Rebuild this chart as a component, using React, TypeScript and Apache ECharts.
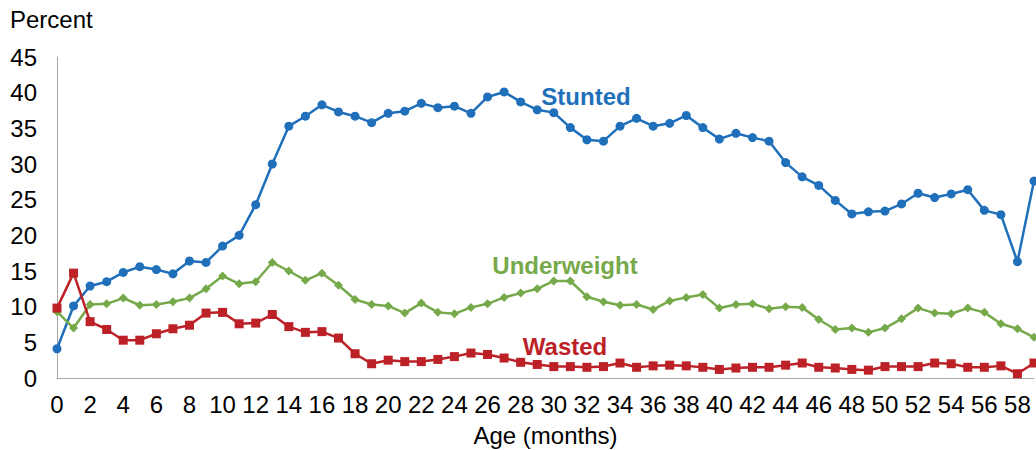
import React, { useEffect, useRef } from "react";
import * as echarts from "echarts";

const months: string[] = Array.from({ length: 60 }, (_, i) => String(i));

const stunted = [
  4.1, 10.1, 12.9, 13.5, 14.8, 15.6, 15.2, 14.6, 16.4, 16.2,
  18.5, 20.0, 24.3, 30.0, 35.3, 36.7, 38.3, 37.3, 36.7, 35.8,
  37.1, 37.4, 38.5, 37.9, 38.1, 37.1, 39.4, 40.1, 38.7, 37.6,
  37.2, 35.1, 33.4, 33.2, 35.3, 36.4, 35.3, 35.7, 36.8, 35.1,
  33.5, 34.3, 33.7, 33.2, 30.2, 28.2, 27.0, 24.9, 23.0, 23.3,
  23.4, 24.4, 25.9, 25.3, 25.8, 26.4, 23.5, 22.9, 16.3, 27.6,
];

const underweight = [
  9.3, 7.0, 10.3, 10.4, 11.2, 10.2, 10.3, 10.7, 11.2, 12.5,
  14.3, 13.2, 13.5, 16.2, 15.0, 13.7, 14.7, 13.0, 11.0, 10.3,
  10.1, 9.1, 10.5, 9.2, 9.0, 9.9, 10.4, 11.3, 11.9, 12.5,
  13.6, 13.6, 11.4, 10.7, 10.2, 10.3, 9.6, 10.8, 11.3, 11.7,
  9.8, 10.3, 10.4, 9.7, 10.0, 9.9, 8.2, 6.8, 7.0, 6.4,
  7.0, 8.3, 9.8, 9.1, 9.0, 9.8, 9.2, 7.6, 6.9, 5.7,
];

const wasted = [
  9.8, 14.7, 7.9, 6.8, 5.3, 5.3, 6.2, 6.9, 7.4, 9.1,
  9.2, 7.6, 7.7, 8.9, 7.2, 6.4, 6.5, 5.6, 3.4, 2.0,
  2.5, 2.3, 2.3, 2.6, 3.0, 3.5, 3.3, 2.8, 2.2, 1.9,
  1.6, 1.6, 1.5, 1.6, 2.1, 1.5, 1.7, 1.8, 1.7, 1.5,
  1.2, 1.4, 1.5, 1.5, 1.8, 2.1, 1.5, 1.4, 1.2, 1.1,
  1.6, 1.6, 1.6, 2.1, 2.0, 1.5, 1.5, 1.7, 0.6, 2.1,
];

const BLUE = "#1f6fba";
const GREEN = "#76a94a";
const RED = "#bc2127";
const FONT = "'Liberation Sans', Arial, sans-serif";
const FS = 24;

export default function App() {
  const ref = useRef<HTMLDivElement>(null);
  useEffect(() => {
    if (!ref.current) return;
    const chart = echarts.init(ref.current, undefined, { renderer: "svg" });
    chart.setOption({
      animation: false,
      textStyle: { fontFamily: FONT },
      grid: { left: 57, right: 2, top: 57, bottom: 72, containLabel: false, outerBoundsMode: "none" },
      xAxis: {
        type: "category",
        data: months,
        boundaryGap: false,
        name: "Age (months)",
        nameLocation: "middle",
        nameGap: 45,
        nameTextStyle: { fontSize: FS, color: "#000", fontFamily: FONT },
        axisLine: { lineStyle: { color: "#a6a6a6", width: 1 } },
        axisTick: { show: false },
        axisLabel: { interval: 1, fontSize: FS, color: "#000", margin: 14, fontFamily: FONT },
        splitLine: { show: false },
      },
      yAxis: {
        type: "value",
        min: 0,
        max: 45,
        interval: 5,
        axisLine: { show: true, lineStyle: { color: "#a6a6a6", width: 1 } },
        axisTick: { show: false },
        axisLabel: { fontSize: FS, color: "#000", margin: 20, fontFamily: FONT },
        splitLine: { show: false },
      },
      graphic: [
        { type: "text", left: 10, top: 7, style: { text: "Percent", fontSize: FS, fill: "#000", fontFamily: FONT } },
        { type: "text", x: 586, y: 96, style: { text: "Stunted", fontSize: FS, fontWeight: "bold", fill: BLUE, align: "center", verticalAlign: "middle", fontFamily: FONT } },
        { type: "text", x: 565, y: 265, style: { text: "Underweight", fontSize: FS, fontWeight: "bold", fill: GREEN, align: "center", verticalAlign: "middle", fontFamily: FONT } },
        { type: "text", x: 565, y: 346, style: { text: "Wasted", fontSize: FS, fontWeight: "bold", fill: RED, align: "center", verticalAlign: "middle", fontFamily: FONT } },
      ],
      series: [
        {
          name: "Stunted",
          type: "line",
          data: stunted,
          clip: false,
          symbol: "circle",
          symbolSize: 9,
          lineStyle: { color: BLUE, width: 2.5 },
          itemStyle: { color: BLUE },
        },
        {
          name: "Underweight",
          type: "line",
          data: underweight,
          clip: false,
          symbol: "diamond",
          symbolSize: 9,
          lineStyle: { color: GREEN, width: 2.5 },
          itemStyle: { color: GREEN },
        },
        {
          name: "Wasted",
          type: "line",
          data: wasted,
          clip: false,
          symbol: "rect",
          symbolSize: 9,
          lineStyle: { color: RED, width: 2.5 },
          itemStyle: { color: RED },
        },
      ],
    });
    return () => chart.dispose();
  }, []);
  return (
    <div
      ref={ref}
      style={{ position: "absolute", left: 0, top: 0, width: 1036, height: 450, background: "#fff" }}
    />
  );
}
